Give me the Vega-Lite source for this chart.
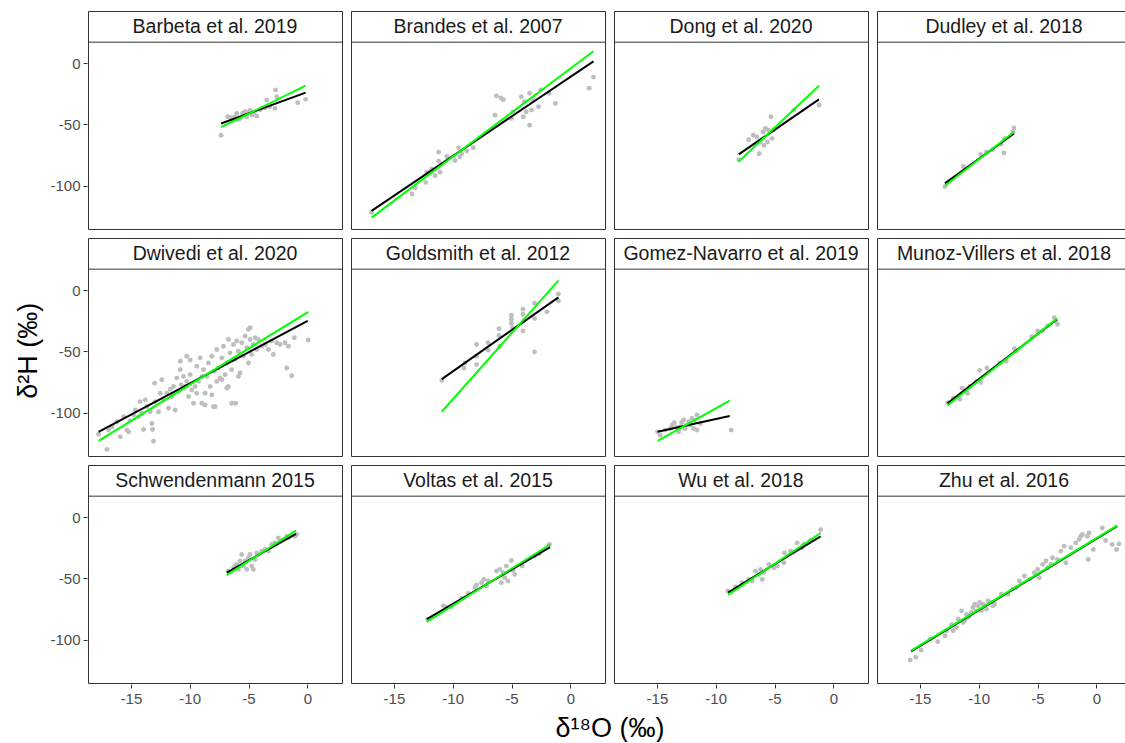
{
"$schema": "https://vega.github.io/schema/vega-lite/v6.json",
"padding": {"left": 14, "top": 9, "right": 0, "bottom": 0},
"autosize": {"type": "pad"},
"background": "white",
"title": {"text": "δ²H (‰)", "orient": "left", "anchor": "middle", "fontSize": 27, "fontWeight": "normal", "font": "Liberation Sans", "color": "#000000", "offset": 7, "dx": 25},
"data": {"values": [
{"study":"Barbeta et al. 2019","series":"obs","d18O":-7.33,"d2H":-58.9},{"study":"Barbeta et al. 2019","series":"obs","d18O":-6.76,"d2H":-43.8},{"study":"Barbeta et al. 2019","series":"obs","d18O":-6.4,"d2H":-46.6},{"study":"Barbeta et al. 2019","series":"obs","d18O":-6.0,"d2H":-41.1},{"study":"Barbeta et al. 2019","series":"obs","d18O":-5.7,"d2H":-45.2},{"study":"Barbeta et al. 2019","series":"obs","d18O":-5.3,"d2H":-39.7},{"study":"Barbeta et al. 2019","series":"obs","d18O":-5.15,"d2H":-43.8},{"study":"Barbeta et al. 2019","series":"obs","d18O":-4.87,"d2H":-38.4},{"study":"Barbeta et al. 2019","series":"obs","d18O":-4.7,"d2H":-42.5},{"study":"Barbeta et al. 2019","series":"obs","d18O":-4.3,"d2H":-43.3},{"study":"Barbeta et al. 2019","series":"obs","d18O":-3.9,"d2H":-37},{"study":"Barbeta et al. 2019","series":"obs","d18O":-3.45,"d2H":-30.1},{"study":"Barbeta et al. 2019","series":"obs","d18O":-3.2,"d2H":-35.6},{"study":"Barbeta et al. 2019","series":"obs","d18O":-2.75,"d2H":-37},{"study":"Barbeta et al. 2019","series":"obs","d18O":-2.7,"d2H":-21.9},{"study":"Barbeta et al. 2019","series":"obs","d18O":-2.6,"d2H":-27.4},{"study":"Barbeta et al. 2019","series":"obs","d18O":-0.82,"d2H":-32.3},{"study":"Barbeta et al. 2019","series":"obs","d18O":-0.14,"d2H":-29.6},{"study":"Barbeta et al. 2019","series":"obs","d18O":-6.2,"d2H":-44},{"study":"Barbeta et al. 2019","series":"obs","d18O":-5.5,"d2H":-41},{"study":"Barbeta et al. 2019","series":"obs","d18O":-4.5,"d2H":-40},{"study":"Barbeta et al. 2019","series":"obs","d18O":-4.0,"d2H":-38},{"study":"Barbeta et al. 2019","series":"obs","d18O":-3.6,"d2H":-36.5},{"study":"Barbeta et al. 2019","series":"obs","d18O":-5.9,"d2H":-46},{"study":"Barbeta et al. 2019","series":"obs","d18O":-6.5,"d2H":-44.5},{"study":"Barbeta et al. 2019","series":"obs","d18O":-5.0,"d2H":-40.5},
{"study":"Barbeta et al. 2019","series":"OLS","d18O":-7.33,"d2H":-49.3},{"study":"Barbeta et al. 2019","series":"OLS","d18O":-0.14,"d2H":-24.1},{"study":"Barbeta et al. 2019","series":"RMA","d18O":-7.33,"d2H":-52.3},{"study":"Barbeta et al. 2019","series":"RMA","d18O":-0.14,"d2H":-18.4},
{"study":"Brandes et al. 2007","series":"obs","d18O":-16.9,"d2H":-121.9},{"study":"Brandes et al. 2007","series":"obs","d18O":-13.46,"d2H":-106.8},{"study":"Brandes et al. 2007","series":"obs","d18O":-13.2,"d2H":-101.9},{"study":"Brandes et al. 2007","series":"obs","d18O":-12.3,"d2H":-97.3},{"study":"Brandes et al. 2007","series":"obs","d18O":-12.2,"d2H":-89},{"study":"Brandes et al. 2007","series":"obs","d18O":-11.8,"d2H":-86.3},{"study":"Brandes et al. 2007","series":"obs","d18O":-11.5,"d2H":-91.8},{"study":"Brandes et al. 2007","series":"obs","d18O":-11.2,"d2H":-72.6},{"study":"Brandes et al. 2007","series":"obs","d18O":-11.2,"d2H":-80},{"study":"Brandes et al. 2007","series":"obs","d18O":-11.07,"d2H":-89},{"study":"Brandes et al. 2007","series":"obs","d18O":-10.5,"d2H":-76.2},{"study":"Brandes et al. 2007","series":"obs","d18O":-9.8,"d2H":-79.5},{"study":"Brandes et al. 2007","series":"obs","d18O":-9.5,"d2H":-69},{"study":"Brandes et al. 2007","series":"obs","d18O":-9.4,"d2H":-76.7},{"study":"Brandes et al. 2007","series":"obs","d18O":-9.24,"d2H":-74},{"study":"Brandes et al. 2007","series":"obs","d18O":-8.8,"d2H":-71.8},{"study":"Brandes et al. 2007","series":"obs","d18O":-8.25,"d2H":-69},{"study":"Brandes et al. 2007","series":"obs","d18O":-6.4,"d2H":-42.5},{"study":"Brandes et al. 2007","series":"obs","d18O":-6.28,"d2H":-26.8},{"study":"Brandes et al. 2007","series":"obs","d18O":-5.7,"d2H":-30},{"study":"Brandes et al. 2007","series":"obs","d18O":-5.9,"d2H":-28.5},{"study":"Brandes et al. 2007","series":"obs","d18O":-5.0,"d2H":-45.2},{"study":"Brandes et al. 2007","series":"obs","d18O":-4.87,"d2H":-39.7},{"study":"Brandes et al. 2007","series":"obs","d18O":-4.17,"d2H":-27.4},{"study":"Brandes et al. 2007","series":"obs","d18O":-4.0,"d2H":-43.8},{"study":"Brandes et al. 2007","series":"obs","d18O":-3.9,"d2H":-31.5},{"study":"Brandes et al. 2007","series":"obs","d18O":-3.75,"d2H":-39.7},{"study":"Brandes et al. 2007","series":"obs","d18O":-3.46,"d2H":-50.7},{"study":"Brandes et al. 2007","series":"obs","d18O":-3.46,"d2H":-24.7},{"study":"Brandes et al. 2007","series":"obs","d18O":-3.3,"d2H":-38.4},{"study":"Brandes et al. 2007","series":"obs","d18O":-3.2,"d2H":-30},{"study":"Brandes et al. 2007","series":"obs","d18O":-2.7,"d2H":-35.6},{"study":"Brandes et al. 2007","series":"obs","d18O":-2.5,"d2H":-21.9},{"study":"Brandes et al. 2007","series":"obs","d18O":-1.8,"d2H":-24.7},{"study":"Brandes et al. 2007","series":"obs","d18O":-1.27,"d2H":-32.9},{"study":"Brandes et al. 2007","series":"obs","d18O":1.6,"d2H":-20.5},{"study":"Brandes et al. 2007","series":"obs","d18O":1.97,"d2H":-11.5},
{"study":"Brandes et al. 2007","series":"OLS","d18O":-16.9,"d2H":-120.5},{"study":"Brandes et al. 2007","series":"OLS","d18O":1.97,"d2H":1.4},{"study":"Brandes et al. 2007","series":"RMA","d18O":-16.9,"d2H":-126},{"study":"Brandes et al. 2007","series":"RMA","d18O":1.97,"d2H":9.6},
{"study":"Dong et al. 2020","series":"obs","d18O":-8.04,"d2H":-78.9},{"study":"Dong et al. 2020","series":"obs","d18O":-7.2,"d2H":-62.5},{"study":"Dong et al. 2020","series":"obs","d18O":-6.8,"d2H":-58.9},{"study":"Dong et al. 2020","series":"obs","d18O":-6.5,"d2H":-60.3},{"study":"Dong et al. 2020","series":"obs","d18O":-6.3,"d2H":-74},{"study":"Dong et al. 2020","series":"obs","d18O":-6.2,"d2H":-64.4},{"study":"Dong et al. 2020","series":"obs","d18O":-5.97,"d2H":-56.2},{"study":"Dong et al. 2020","series":"obs","d18O":-5.9,"d2H":-67.1},{"study":"Dong et al. 2020","series":"obs","d18O":-5.77,"d2H":-53.4},{"study":"Dong et al. 2020","series":"obs","d18O":-5.6,"d2H":-64.4},{"study":"Dong et al. 2020","series":"obs","d18O":-5.5,"d2H":-54.8},{"study":"Dong et al. 2020","series":"obs","d18O":-5.3,"d2H":-43.8},{"study":"Dong et al. 2020","series":"obs","d18O":-5.2,"d2H":-61.6},{"study":"Dong et al. 2020","series":"obs","d18O":-5.05,"d2H":-54.2},{"study":"Dong et al. 2020","series":"obs","d18O":-3.35,"d2H":-38.4},{"study":"Dong et al. 2020","series":"obs","d18O":-1.22,"d2H":-34.2},
{"study":"Dong et al. 2020","series":"OLS","d18O":-8.04,"d2H":-74.5},{"study":"Dong et al. 2020","series":"OLS","d18O":-1.22,"d2H":-29.6},{"study":"Dong et al. 2020","series":"RMA","d18O":-8.04,"d2H":-80.3},{"study":"Dong et al. 2020","series":"RMA","d18O":-1.22,"d2H":-18.6},
{"study":"Dudley et al. 2018","series":"obs","d18O":-12.87,"d2H":-100.8},{"study":"Dudley et al. 2018","series":"obs","d18O":-11.3,"d2H":-84.4},{"study":"Dudley et al. 2018","series":"obs","d18O":-9.83,"d2H":-74.5},{"study":"Dudley et al. 2018","series":"obs","d18O":-9.35,"d2H":-72.6},{"study":"Dudley et al. 2018","series":"obs","d18O":-8.8,"d2H":-70.7},{"study":"Dudley et al. 2018","series":"obs","d18O":-8.1,"d2H":-66.3},{"study":"Dudley et al. 2018","series":"obs","d18O":-7.86,"d2H":-73.4},{"study":"Dudley et al. 2018","series":"obs","d18O":-7.8,"d2H":-61.6},{"study":"Dudley et al. 2018","series":"obs","d18O":-7.0,"d2H":-52.9},{"study":"Dudley et al. 2018","series":"obs","d18O":-7.1,"d2H":-56.2},
{"study":"Dudley et al. 2018","series":"OLS","d18O":-12.87,"d2H":-98.1},{"study":"Dudley et al. 2018","series":"OLS","d18O":-7.0,"d2H":-57.5},{"study":"Dudley et al. 2018","series":"RMA","d18O":-12.87,"d2H":-100},{"study":"Dudley et al. 2018","series":"RMA","d18O":-7.01,"d2H":-56.2},
{"study":"Dwivedi et al. 2020","series":"obs","d18O":-17.75,"d2H":-117.5},{"study":"Dwivedi et al. 2020","series":"obs","d18O":-17.04,"d2H":-129.9},{"study":"Dwivedi et al. 2020","series":"obs","d18O":-16.9,"d2H":-114.2},{"study":"Dwivedi et al. 2020","series":"obs","d18O":-16.61,"d2H":-111.5},{"study":"Dwivedi et al. 2020","series":"obs","d18O":-16.19,"d2H":-107.4},{"study":"Dwivedi et al. 2020","series":"obs","d18O":-15.91,"d2H":-119.7},{"study":"Dwivedi et al. 2020","series":"obs","d18O":-15.62,"d2H":-103.3},{"study":"Dwivedi et al. 2020","series":"obs","d18O":-15.34,"d2H":-114.2},{"study":"Dwivedi et al. 2020","series":"obs","d18O":-15.2,"d2H":-115.6},{"study":"Dwivedi et al. 2020","series":"obs","d18O":-15.06,"d2H":-106.6},{"study":"Dwivedi et al. 2020","series":"obs","d18O":-14.77,"d2H":-101.9},{"study":"Dwivedi et al. 2020","series":"obs","d18O":-14.63,"d2H":-97.8},{"study":"Dwivedi et al. 2020","series":"obs","d18O":-14.35,"d2H":-103.3},{"study":"Dwivedi et al. 2020","series":"obs","d18O":-14.21,"d2H":-91},{"study":"Dwivedi et al. 2020","series":"obs","d18O":-14.07,"d2H":-100.5},{"study":"Dwivedi et al. 2020","series":"obs","d18O":-13.93,"d2H":-113.7},{"study":"Dwivedi et al. 2020","series":"obs","d18O":-13.78,"d2H":-89.6},{"study":"Dwivedi et al. 2020","series":"obs","d18O":-13.64,"d2H":-95.1},{"study":"Dwivedi et al. 2020","series":"obs","d18O":-13.36,"d2H":-99.2},{"study":"Dwivedi et al. 2020","series":"obs","d18O":-13.22,"d2H":-108.8},{"study":"Dwivedi et al. 2020","series":"obs","d18O":-13.16,"d2H":-113.7},{"study":"Dwivedi et al. 2020","series":"obs","d18O":-13.08,"d2H":-123.3},{"study":"Dwivedi et al. 2020","series":"obs","d18O":-12.99,"d2H":-75.9},{"study":"Dwivedi et al. 2020","series":"obs","d18O":-12.94,"d2H":-91},{"study":"Dwivedi et al. 2020","series":"obs","d18O":-12.65,"d2H":-99.2},{"study":"Dwivedi et al. 2020","series":"obs","d18O":-12.51,"d2H":-84.1},{"study":"Dwivedi et al. 2020","series":"obs","d18O":-12.37,"d2H":-73.2},{"study":"Dwivedi et al. 2020","series":"obs","d18O":-12.23,"d2H":-89.6},{"study":"Dwivedi et al. 2020","series":"obs","d18O":-11.94,"d2H":-84.1},{"study":"Dwivedi et al. 2020","series":"obs","d18O":-11.8,"d2H":-96.4},{"study":"Dwivedi et al. 2020","series":"obs","d18O":-11.66,"d2H":-80.8},{"study":"Dwivedi et al. 2020","series":"obs","d18O":-11.52,"d2H":-86.8},{"study":"Dwivedi et al. 2020","series":"obs","d18O":-11.38,"d2H":-78.6},{"study":"Dwivedi et al. 2020","series":"obs","d18O":-11.24,"d2H":-97.8},{"study":"Dwivedi et al. 2020","series":"obs","d18O":-11.1,"d2H":-71.8},{"study":"Dwivedi et al. 2020","series":"obs","d18O":-10.95,"d2H":-82.7},{"study":"Dwivedi et al. 2020","series":"obs","d18O":-10.81,"d2H":-64.9},{"study":"Dwivedi et al. 2020","series":"obs","d18O":-10.73,"d2H":-77.3},{"study":"Dwivedi et al. 2020","series":"obs","d18O":-10.53,"d2H":-70.4},{"study":"Dwivedi et al. 2020","series":"obs","d18O":-10.39,"d2H":-78.6},{"study":"Dwivedi et al. 2020","series":"obs","d18O":-10.25,"d2H":-74.5},{"study":"Dwivedi et al. 2020","series":"obs","d18O":-10.1,"d2H":-86.8},{"study":"Dwivedi et al. 2020","series":"obs","d18O":-9.96,"d2H":-69},{"study":"Dwivedi et al. 2020","series":"obs","d18O":-9.82,"d2H":-81.4},{"study":"Dwivedi et al. 2020","series":"obs","d18O":-9.68,"d2H":-92.3},{"study":"Dwivedi et al. 2020","series":"obs","d18O":-9.54,"d2H":-78.6},{"study":"Dwivedi et al. 2020","series":"obs","d18O":-9.4,"d2H":-62.2},{"study":"Dwivedi et al. 2020","series":"obs","d18O":-9.26,"d2H":-74.5},{"study":"Dwivedi et al. 2020","series":"obs","d18O":-9.11,"d2H":-55.3},{"study":"Dwivedi et al. 2020","series":"obs","d18O":-8.97,"d2H":-70.4},{"study":"Dwivedi et al. 2020","series":"obs","d18O":-8.83,"d2H":-64.9},{"study":"Dwivedi et al. 2020","series":"obs","d18O":-8.69,"d2H":-84.1},{"study":"Dwivedi et al. 2020","series":"obs","d18O":-8.55,"d2H":-70.4},{"study":"Dwivedi et al. 2020","series":"obs","d18O":-8.41,"d2H":-59.5},{"study":"Dwivedi et al. 2020","series":"obs","d18O":-8.26,"d2H":-78.6},{"study":"Dwivedi et al. 2020","series":"obs","d18O":-8.12,"d2H":-54},{"study":"Dwivedi et al. 2020","series":"obs","d18O":-7.98,"d2H":-95.1},{"study":"Dwivedi et al. 2020","series":"obs","d18O":-7.9,"d2H":-66.3},{"study":"Dwivedi et al. 2020","series":"obs","d18O":-7.7,"d2H":-48.5},{"study":"Dwivedi et al. 2020","series":"obs","d18O":-7.56,"d2H":-63.6},{"study":"Dwivedi et al. 2020","series":"obs","d18O":-7.42,"d2H":-71.8},{"study":"Dwivedi et al. 2020","series":"obs","d18O":-7.27,"d2H":-55.3},{"study":"Dwivedi et al. 2020","series":"obs","d18O":-7.13,"d2H":-45.8},{"study":"Dwivedi et al. 2020","series":"obs","d18O":-6.99,"d2H":-69},{"study":"Dwivedi et al. 2020","series":"obs","d18O":-6.85,"d2H":-59.5},{"study":"Dwivedi et al. 2020","series":"obs","d18O":-6.71,"d2H":-40.3},{"study":"Dwivedi et al. 2020","series":"obs","d18O":-6.57,"d2H":-51.2},{"study":"Dwivedi et al. 2020","series":"obs","d18O":-6.43,"d2H":-64.9},{"study":"Dwivedi et al. 2020","series":"obs","d18O":-6.28,"d2H":-44.4},{"study":"Dwivedi et al. 2020","series":"obs","d18O":-6.14,"d2H":-56.7},{"study":"Dwivedi et al. 2020","series":"obs","d18O":-6.09,"d2H":-92.3},{"study":"Dwivedi et al. 2020","series":"obs","d18O":-6.0,"d2H":-41.6},{"study":"Dwivedi et al. 2020","series":"obs","d18O":-5.86,"d2H":-49.9},{"study":"Dwivedi et al. 2020","series":"obs","d18O":-5.72,"d2H":-67.7},{"study":"Dwivedi et al. 2020","series":"obs","d18O":-5.58,"d2H":-43},{"study":"Dwivedi et al. 2020","series":"obs","d18O":-5.43,"d2H":-54},{"study":"Dwivedi et al. 2020","series":"obs","d18O":-5.29,"d2H":-37.5},{"study":"Dwivedi et al. 2020","series":"obs","d18O":-5.15,"d2H":-47.1},{"study":"Dwivedi et al. 2020","series":"obs","d18O":-5.01,"d2H":-59.5},{"study":"Dwivedi et al. 2020","series":"obs","d18O":-4.87,"d2H":-40.3},{"study":"Dwivedi et al. 2020","series":"obs","d18O":-4.73,"d2H":-52.6},{"study":"Dwivedi et al. 2020","series":"obs","d18O":-4.59,"d2H":-44.4},{"study":"Dwivedi et al. 2020","series":"obs","d18O":-4.44,"d2H":-38.9},{"study":"Dwivedi et al. 2020","series":"obs","d18O":-4.3,"d2H":-48.5},{"study":"Dwivedi et al. 2020","series":"obs","d18O":-4.16,"d2H":-40.3},{"study":"Dwivedi et al. 2020","series":"obs","d18O":-3.88,"d2H":-45.8},{"study":"Dwivedi et al. 2020","series":"obs","d18O":-3.59,"d2H":-44.4},{"study":"Dwivedi et al. 2020","series":"obs","d18O":-3.31,"d2H":-48.5},{"study":"Dwivedi et al. 2020","series":"obs","d18O":-3.03,"d2H":-41.6},{"study":"Dwivedi et al. 2020","series":"obs","d18O":-2.89,"d2H":-52.6},{"study":"Dwivedi et al. 2020","series":"obs","d18O":-2.6,"d2H":-43},{"study":"Dwivedi et al. 2020","series":"obs","d18O":-2.32,"d2H":-44.4},{"study":"Dwivedi et al. 2020","series":"obs","d18O":-1.9,"d2H":-43},{"study":"Dwivedi et al. 2020","series":"obs","d18O":-1.75,"d2H":-63.6},{"study":"Dwivedi et al. 2020","series":"obs","d18O":-1.61,"d2H":-45.8},{"study":"Dwivedi et al. 2020","series":"obs","d18O":-1.33,"d2H":-69.9},{"study":"Dwivedi et al. 2020","series":"obs","d18O":-1.1,"d2H":-38.9},{"study":"Dwivedi et al. 2020","series":"obs","d18O":0.08,"d2H":-40.8},{"study":"Dwivedi et al. 2020","series":"obs","d18O":-5.01,"d2H":-32.1},{"study":"Dwivedi et al. 2020","series":"obs","d18O":-4.87,"d2H":-30.7},{"study":"Dwivedi et al. 2020","series":"obs","d18O":-7.27,"d2H":-73.2},{"study":"Dwivedi et al. 2020","series":"obs","d18O":-6.71,"d2H":-78.6},{"study":"Dwivedi et al. 2020","series":"obs","d18O":-6.43,"d2H":-92.3},{"study":"Dwivedi et al. 2020","series":"obs","d18O":-6.85,"d2H":-80},{"study":"Dwivedi et al. 2020","series":"obs","d18O":-7.7,"d2H":-74.5},{"study":"Dwivedi et al. 2020","series":"obs","d18O":-8.69,"d2H":-93.7},{"study":"Dwivedi et al. 2020","series":"obs","d18O":-8.97,"d2H":-92.3},{"study":"Dwivedi et al. 2020","series":"obs","d18O":-9.4,"d2H":-84.1},{"study":"Dwivedi et al. 2020","series":"obs","d18O":-8.12,"d2H":-85.5},{"study":"Dwivedi et al. 2020","series":"obs","d18O":-5.86,"d2H":-70.4},{"study":"Dwivedi et al. 2020","series":"obs","d18O":-7.84,"d2H":-95.1},{"study":"Dwivedi et al. 2020","series":"obs","d18O":-10.8,"d2H":-58.1},{"study":"Dwivedi et al. 2020","series":"obs","d18O":-10.25,"d2H":-54},{"study":"Dwivedi et al. 2020","series":"obs","d18O":-9.96,"d2H":-57},
{"study":"Dwivedi et al. 2020","series":"OLS","d18O":-17.75,"d2H":-115.6},{"study":"Dwivedi et al. 2020","series":"OLS","d18O":0.03,"d2H":-25.2},{"study":"Dwivedi et al. 2020","series":"RMA","d18O":-17.75,"d2H":-123},{"study":"Dwivedi et al. 2020","series":"RMA","d18O":0.08,"d2H":-17.8},
{"study":"Goldsmith et al. 2012","series":"obs","d18O":-10.93,"d2H":-73.7},{"study":"Goldsmith et al. 2012","series":"obs","d18O":-9.04,"d2H":-63.6},{"study":"Goldsmith et al. 2012","series":"obs","d18O":-8.96,"d2H":-59.5},{"study":"Goldsmith et al. 2012","series":"obs","d18O":-7.97,"d2H":-44.4},{"study":"Goldsmith et al. 2012","series":"obs","d18O":-7.97,"d2H":-54},{"study":"Goldsmith et al. 2012","series":"obs","d18O":-7.97,"d2H":-60.8},{"study":"Goldsmith et al. 2012","series":"obs","d18O":-6.99,"d2H":-43},{"study":"Goldsmith et al. 2012","series":"obs","d18O":-6.99,"d2H":-49},{"study":"Goldsmith et al. 2012","series":"obs","d18O":-6.06,"d2H":-31.5},{"study":"Goldsmith et al. 2012","series":"obs","d18O":-6.06,"d2H":-37},{"study":"Goldsmith et al. 2012","series":"obs","d18O":-6.0,"d2H":-45.8},{"study":"Goldsmith et al. 2012","series":"obs","d18O":-5.01,"d2H":-20.5},{"study":"Goldsmith et al. 2012","series":"obs","d18O":-5.01,"d2H":-23.8},{"study":"Goldsmith et al. 2012","series":"obs","d18O":-5.01,"d2H":-27.1},{"study":"Goldsmith et al. 2012","series":"obs","d18O":-4.93,"d2H":-30.7},{"study":"Goldsmith et al. 2012","series":"obs","d18O":-4.03,"d2H":-15.6},{"study":"Goldsmith et al. 2012","series":"obs","d18O":-4.03,"d2H":-19.7},{"study":"Goldsmith et al. 2012","series":"obs","d18O":-4.03,"d2H":-33.4},{"study":"Goldsmith et al. 2012","series":"obs","d18O":-3.97,"d2H":-25.2},{"study":"Goldsmith et al. 2012","series":"obs","d18O":-3.04,"d2H":-10.7},{"study":"Goldsmith et al. 2012","series":"obs","d18O":-3.04,"d2H":-23.3},{"study":"Goldsmith et al. 2012","series":"obs","d18O":-3.04,"d2H":-50.4},{"study":"Goldsmith et al. 2012","series":"obs","d18O":-2.0,"d2H":-17.8},{"study":"Goldsmith et al. 2012","series":"obs","d18O":-1.01,"d2H":-3.3},{"study":"Goldsmith et al. 2012","series":"obs","d18O":-1.01,"d2H":-8.8},
{"study":"Goldsmith et al. 2012","series":"OLS","d18O":-10.93,"d2H":-72.6},{"study":"Goldsmith et al. 2012","series":"OLS","d18O":-1.01,"d2H":-6.0},{"study":"Goldsmith et al. 2012","series":"RMA","d18O":-10.93,"d2H":-99.2},{"study":"Goldsmith et al. 2012","series":"RMA","d18O":-1.01,"d2H":7.7},
{"study":"Gomez-Navarro et al. 2019","series":"obs","d18O":-14.94,"d2H":-115.6},{"study":"Gomez-Navarro et al. 2019","series":"obs","d18O":-14.72,"d2H":-118.4},{"study":"Gomez-Navarro et al. 2019","series":"obs","d18O":-14.29,"d2H":-114.2},{"study":"Gomez-Navarro et al. 2019","series":"obs","d18O":-13.86,"d2H":-112.9},{"study":"Gomez-Navarro et al. 2019","series":"obs","d18O":-13.52,"d2H":-108.2},{"study":"Gomez-Navarro et al. 2019","series":"obs","d18O":-13.15,"d2H":-115.6},{"study":"Gomez-Navarro et al. 2019","series":"obs","d18O":-13.0,"d2H":-111.5},{"study":"Gomez-Navarro et al. 2019","series":"obs","d18O":-12.73,"d2H":-106},{"study":"Gomez-Navarro et al. 2019","series":"obs","d18O":-12.5,"d2H":-110.1},{"study":"Gomez-Navarro et al. 2019","series":"obs","d18O":-12.3,"d2H":-107.4},{"study":"Gomez-Navarro et al. 2019","series":"obs","d18O":-12.02,"d2H":-104.7},{"study":"Gomez-Navarro et al. 2019","series":"obs","d18O":-11.88,"d2H":-112.9},{"study":"Gomez-Navarro et al. 2019","series":"obs","d18O":-11.59,"d2H":-101.9},{"study":"Gomez-Navarro et al. 2019","series":"obs","d18O":-11.59,"d2H":-114.2},{"study":"Gomez-Navarro et al. 2019","series":"obs","d18O":-11.3,"d2H":-108.8},{"study":"Gomez-Navarro et al. 2019","series":"obs","d18O":-8.69,"d2H":-114.2},{"study":"Gomez-Navarro et al. 2019","series":"obs","d18O":-13.7,"d2H":-110},{"study":"Gomez-Navarro et al. 2019","series":"obs","d18O":-12.9,"d2H":-108},{"study":"Gomez-Navarro et al. 2019","series":"obs","d18O":-12.2,"d2H":-110},{"study":"Gomez-Navarro et al. 2019","series":"obs","d18O":-11.8,"d2H":-106},{"study":"Gomez-Navarro et al. 2019","series":"obs","d18O":-12.6,"d2H":-113},{"study":"Gomez-Navarro et al. 2019","series":"obs","d18O":-13.3,"d2H":-112},
{"study":"Gomez-Navarro et al. 2019","series":"OLS","d18O":-14.94,"d2H":-115.6},{"study":"Gomez-Navarro et al. 2019","series":"OLS","d18O":-8.81,"d2H":-102.7},{"study":"Gomez-Navarro et al. 2019","series":"RMA","d18O":-14.94,"d2H":-123},{"study":"Gomez-Navarro et al. 2019","series":"RMA","d18O":-8.81,"d2H":-90.1},
{"study":"Munoz-Villers et al. 2018","series":"obs","d18O":-12.65,"d2H":-91.8},{"study":"Munoz-Villers et al. 2018","series":"obs","d18O":-12.17,"d2H":-88.2},{"study":"Munoz-Villers et al. 2018","series":"obs","d18O":-11.61,"d2H":-89},{"study":"Munoz-Villers et al. 2018","series":"obs","d18O":-11.41,"d2H":-80},{"study":"Munoz-Villers et al. 2018","series":"obs","d18O":-10.96,"d2H":-84.1},{"study":"Munoz-Villers et al. 2018","series":"obs","d18O":-10.76,"d2H":-78.6},{"study":"Munoz-Villers et al. 2018","series":"obs","d18O":-10.2,"d2H":-74.5},{"study":"Munoz-Villers et al. 2018","series":"obs","d18O":-9.92,"d2H":-65.5},{"study":"Munoz-Villers et al. 2018","series":"obs","d18O":-9.83,"d2H":-75.3},{"study":"Munoz-Villers et al. 2018","series":"obs","d18O":-9.3,"d2H":-63.6},{"study":"Munoz-Villers et al. 2018","series":"obs","d18O":-8.23,"d2H":-59.5},{"study":"Munoz-Villers et al. 2018","series":"obs","d18O":-7.66,"d2H":-58.1},{"study":"Munoz-Villers et al. 2018","series":"obs","d18O":-6.96,"d2H":-47.9},{"study":"Munoz-Villers et al. 2018","series":"obs","d18O":-6.82,"d2H":-49.9},{"study":"Munoz-Villers et al. 2018","series":"obs","d18O":-5.49,"d2H":-38.1},{"study":"Munoz-Villers et al. 2018","series":"obs","d18O":-4.99,"d2H":-33.4},{"study":"Munoz-Villers et al. 2018","series":"obs","d18O":-4.56,"d2H":-33.4},{"study":"Munoz-Villers et al. 2018","series":"obs","d18O":-4.14,"d2H":-29.3},{"study":"Munoz-Villers et al. 2018","series":"obs","d18O":-3.58,"d2H":-22.5},{"study":"Munoz-Villers et al. 2018","series":"obs","d18O":-3.3,"d2H":-27.9},{"study":"Munoz-Villers et al. 2018","series":"obs","d18O":-3.44,"d2H":-25.2},
{"study":"Munoz-Villers et al. 2018","series":"OLS","d18O":-12.65,"d2H":-92.3},{"study":"Munoz-Villers et al. 2018","series":"OLS","d18O":-3.35,"d2H":-23.8},{"study":"Munoz-Villers et al. 2018","series":"RMA","d18O":-12.65,"d2H":-94.2},{"study":"Munoz-Villers et al. 2018","series":"RMA","d18O":-3.35,"d2H":-23.3},
{"study":"Schwendenmann 2015","series":"obs","d18O":-6.71,"d2H":-44.1},{"study":"Schwendenmann 2015","series":"obs","d18O":-6.28,"d2H":-41.4},{"study":"Schwendenmann 2015","series":"obs","d18O":-6.0,"d2H":-38.6},{"study":"Schwendenmann 2015","series":"obs","d18O":-5.86,"d2H":-42.7},{"study":"Schwendenmann 2015","series":"obs","d18O":-5.58,"d2H":-30.5},{"study":"Schwendenmann 2015","series":"obs","d18O":-5.43,"d2H":-40},{"study":"Schwendenmann 2015","series":"obs","d18O":-5.29,"d2H":-35.9},{"study":"Schwendenmann 2015","series":"obs","d18O":-5.15,"d2H":-42.7},{"study":"Schwendenmann 2015","series":"obs","d18O":-5.01,"d2H":-33.2},{"study":"Schwendenmann 2015","series":"obs","d18O":-4.87,"d2H":-30.5},{"study":"Schwendenmann 2015","series":"obs","d18O":-4.73,"d2H":-40},{"study":"Schwendenmann 2015","series":"obs","d18O":-4.59,"d2H":-42.7},{"study":"Schwendenmann 2015","series":"obs","d18O":-4.44,"d2H":-34.6},{"study":"Schwendenmann 2015","series":"obs","d18O":-4.3,"d2H":-29.2},{"study":"Schwendenmann 2015","series":"obs","d18O":-4.16,"d2H":-30.5},{"study":"Schwendenmann 2015","series":"obs","d18O":-3.88,"d2H":-27.8},{"study":"Schwendenmann 2015","series":"obs","d18O":-3.59,"d2H":-26.5},{"study":"Schwendenmann 2015","series":"obs","d18O":-3.31,"d2H":-27.8},{"study":"Schwendenmann 2015","series":"obs","d18O":-3.03,"d2H":-22.4},{"study":"Schwendenmann 2015","series":"obs","d18O":-2.75,"d2H":-21.1},{"study":"Schwendenmann 2015","series":"obs","d18O":-2.46,"d2H":-17},{"study":"Schwendenmann 2015","series":"obs","d18O":-2.32,"d2H":-19.7},{"study":"Schwendenmann 2015","series":"obs","d18O":-2.04,"d2H":-18.4},{"study":"Schwendenmann 2015","series":"obs","d18O":-1.75,"d2H":-15.7},{"study":"Schwendenmann 2015","series":"obs","d18O":-1.61,"d2H":-17},{"study":"Schwendenmann 2015","series":"obs","d18O":-1.33,"d2H":-14.9},{"study":"Schwendenmann 2015","series":"obs","d18O":-1.05,"d2H":-15.7},{"study":"Schwendenmann 2015","series":"obs","d18O":-0.91,"d2H":-14.3},{"study":"Schwendenmann 2015","series":"obs","d18O":-5.72,"d2H":-35.9},{"study":"Schwendenmann 2015","series":"obs","d18O":-6.14,"d2H":-40},
{"study":"Schwendenmann 2015","series":"OLS","d18O":-6.85,"d2H":-45.4},{"study":"Schwendenmann 2015","series":"OLS","d18O":-0.96,"d2H":-13.8},{"study":"Schwendenmann 2015","series":"RMA","d18O":-6.85,"d2H":-47.3},{"study":"Schwendenmann 2015","series":"RMA","d18O":-0.96,"d2H":-11.1},
{"study":"Voltas et al. 2015","series":"obs","d18O":-12.14,"d2H":-83.2},{"study":"Voltas et al. 2015","series":"obs","d18O":-10.79,"d2H":-72.4},{"study":"Voltas et al. 2015","series":"obs","d18O":-10.51,"d2H":-73.8},{"study":"Voltas et al. 2015","series":"obs","d18O":-10.08,"d2H":-73.2},{"study":"Voltas et al. 2015","series":"obs","d18O":-9.24,"d2H":-66.2},{"study":"Voltas et al. 2015","series":"obs","d18O":-8.68,"d2H":-62.4},{"study":"Voltas et al. 2015","series":"obs","d18O":-8.11,"d2H":-57.6},{"study":"Voltas et al. 2015","series":"obs","d18O":-7.97,"d2H":-55.4},{"study":"Voltas et al. 2015","series":"obs","d18O":-7.55,"d2H":-53.5},{"study":"Voltas et al. 2015","series":"obs","d18O":-7.35,"d2H":-50.8},{"study":"Voltas et al. 2015","series":"obs","d18O":-7.13,"d2H":-56.2},{"study":"Voltas et al. 2015","series":"obs","d18O":-6.99,"d2H":-52.2},{"study":"Voltas et al. 2015","series":"obs","d18O":-6.28,"d2H":-44.1},{"study":"Voltas et al. 2015","series":"obs","d18O":-6.0,"d2H":-42.7},{"study":"Voltas et al. 2015","series":"obs","d18O":-5.86,"d2H":-53.5},{"study":"Voltas et al. 2015","series":"obs","d18O":-5.72,"d2H":-45.4},{"study":"Voltas et al. 2015","series":"obs","d18O":-5.58,"d2H":-49.5},{"study":"Voltas et al. 2015","series":"obs","d18O":-5.44,"d2H":-40},{"study":"Voltas et al. 2015","series":"obs","d18O":-5.3,"d2H":-52.2},{"study":"Voltas et al. 2015","series":"obs","d18O":-5.01,"d2H":-35.4},{"study":"Voltas et al. 2015","series":"obs","d18O":-4.87,"d2H":-43.5},{"study":"Voltas et al. 2015","series":"obs","d18O":-4.73,"d2H":-46.8},{"study":"Voltas et al. 2015","series":"obs","d18O":-4.08,"d2H":-40},{"study":"Voltas et al. 2015","series":"obs","d18O":-3.04,"d2H":-31.9},{"study":"Voltas et al. 2015","series":"obs","d18O":-2.62,"d2H":-30},{"study":"Voltas et al. 2015","series":"obs","d18O":-1.77,"d2H":-22.4},
{"study":"Voltas et al. 2015","series":"OLS","d18O":-12.2,"d2H":-83.2},{"study":"Voltas et al. 2015","series":"OLS","d18O":-1.72,"d2H":-24.6},{"study":"Voltas et al. 2015","series":"RMA","d18O":-12.2,"d2H":-85.4},{"study":"Voltas et al. 2015","series":"RMA","d18O":-1.72,"d2H":-22.4},
{"study":"Wu et al. 2018","series":"obs","d18O":-8.98,"d2H":-60.3},{"study":"Wu et al. 2018","series":"obs","d18O":-8.32,"d2H":-57},{"study":"Wu et al. 2018","series":"obs","d18O":-7.76,"d2H":-53.5},{"study":"Wu et al. 2018","series":"obs","d18O":-7.19,"d2H":-50.8},{"study":"Wu et al. 2018","series":"obs","d18O":-6.9,"d2H":-52.2},{"study":"Wu et al. 2018","series":"obs","d18O":-6.62,"d2H":-44.1},{"study":"Wu et al. 2018","series":"obs","d18O":-6.34,"d2H":-46.8},{"study":"Wu et al. 2018","series":"obs","d18O":-6.19,"d2H":-42.7},{"study":"Wu et al. 2018","series":"obs","d18O":-6.05,"d2H":-50.8},{"study":"Wu et al. 2018","series":"obs","d18O":-5.91,"d2H":-45.4},{"study":"Wu et al. 2018","series":"obs","d18O":-5.48,"d2H":-38.6},{"study":"Wu et al. 2018","series":"obs","d18O":-5.06,"d2H":-41.4},{"study":"Wu et al. 2018","series":"obs","d18O":-4.77,"d2H":-40},{"study":"Wu et al. 2018","series":"obs","d18O":-4.2,"d2H":-37.3},{"study":"Wu et al. 2018","series":"obs","d18O":-4.15,"d2H":-29.2},{"study":"Wu et al. 2018","series":"obs","d18O":-3.64,"d2H":-27.8},{"study":"Wu et al. 2018","series":"obs","d18O":-3.07,"d2H":-21.1},{"study":"Wu et al. 2018","series":"obs","d18O":-2.64,"d2H":-25.1},{"study":"Wu et al. 2018","series":"obs","d18O":-2.5,"d2H":-22.4},{"study":"Wu et al. 2018","series":"obs","d18O":-1.08,"d2H":-10.3},{"study":"Wu et al. 2018","series":"obs","d18O":-1.93,"d2H":-19.2},
{"study":"Wu et al. 2018","series":"OLS","d18O":-8.95,"d2H":-61.6},{"study":"Wu et al. 2018","series":"OLS","d18O":-1.08,"d2H":-15.7},{"study":"Wu et al. 2018","series":"RMA","d18O":-8.95,"d2H":-63.5},{"study":"Wu et al. 2018","series":"RMA","d18O":-1.08,"d2H":-13},
{"study":"Zhu et al. 2016","series":"obs","d18O":-15.83,"d2H":-116.5},{"study":"Zhu et al. 2016","series":"obs","d18O":-15.35,"d2H":-114.3},{"study":"Zhu et al. 2016","series":"obs","d18O":-14.9,"d2H":-108.4},{"study":"Zhu et al. 2016","series":"obs","d18O":-14.14,"d2H":-99.5},{"study":"Zhu et al. 2016","series":"obs","d18O":-13.49,"d2H":-101.6},{"study":"Zhu et al. 2016","series":"obs","d18O":-12.73,"d2H":-92.7},{"study":"Zhu et al. 2016","series":"obs","d18O":-12.31,"d2H":-87.8},{"study":"Zhu et al. 2016","series":"obs","d18O":-12.17,"d2H":-92.7},{"study":"Zhu et al. 2016","series":"obs","d18O":-11.75,"d2H":-83.2},{"study":"Zhu et al. 2016","series":"obs","d18O":-11.46,"d2H":-76.5},{"study":"Zhu et al. 2016","series":"obs","d18O":-11.32,"d2H":-85.9},{"study":"Zhu et al. 2016","series":"obs","d18O":-11.04,"d2H":-79.2},{"study":"Zhu et al. 2016","series":"obs","d18O":-10.9,"d2H":-81.9},{"study":"Zhu et al. 2016","series":"obs","d18O":-10.62,"d2H":-77.8},{"study":"Zhu et al. 2016","series":"obs","d18O":-10.48,"d2H":-73.8},{"study":"Zhu et al. 2016","series":"obs","d18O":-10.34,"d2H":-71.1},{"study":"Zhu et al. 2016","series":"obs","d18O":-10.2,"d2H":-76.5},{"study":"Zhu et al. 2016","series":"obs","d18O":-10.06,"d2H":-72.4},{"study":"Zhu et al. 2016","series":"obs","d18O":-9.92,"d2H":-69.7},{"study":"Zhu et al. 2016","series":"obs","d18O":-9.63,"d2H":-71.1},{"study":"Zhu et al. 2016","series":"obs","d18O":-9.35,"d2H":-75.1},{"study":"Zhu et al. 2016","series":"obs","d18O":-9.21,"d2H":-68.4},{"study":"Zhu et al. 2016","series":"obs","d18O":-8.93,"d2H":-69.7},{"study":"Zhu et al. 2016","series":"obs","d18O":-8.65,"d2H":-71.1},{"study":"Zhu et al. 2016","series":"obs","d18O":-8.08,"d2H":-63},{"study":"Zhu et al. 2016","series":"obs","d18O":-7.1,"d2H":-58.9},{"study":"Zhu et al. 2016","series":"obs","d18O":-6.82,"d2H":-57.6},{"study":"Zhu et al. 2016","series":"obs","d18O":-6.11,"d2H":-48.1},{"study":"Zhu et al. 2016","series":"obs","d18O":-5.69,"d2H":-50.8},{"study":"Zhu et al. 2016","series":"obs","d18O":-4.99,"d2H":-42.7},{"study":"Zhu et al. 2016","series":"obs","d18O":-4.85,"d2H":-49.5},{"study":"Zhu et al. 2016","series":"obs","d18O":-4.56,"d2H":-38.6},{"study":"Zhu et al. 2016","series":"obs","d18O":-4.28,"d2H":-35.9},{"study":"Zhu et al. 2016","series":"obs","d18O":-4.14,"d2H":-41.4},{"study":"Zhu et al. 2016","series":"obs","d18O":-3.72,"d2H":-33.2},{"study":"Zhu et al. 2016","series":"obs","d18O":-3.3,"d2H":-34.6},{"study":"Zhu et al. 2016","series":"obs","d18O":-3.01,"d2H":-27.8},{"study":"Zhu et al. 2016","series":"obs","d18O":-2.73,"d2H":-23.8},{"study":"Zhu et al. 2016","series":"obs","d18O":-2.59,"d2H":-37.3},{"study":"Zhu et al. 2016","series":"obs","d18O":-2.17,"d2H":-25.1},{"study":"Zhu et al. 2016","series":"obs","d18O":-1.75,"d2H":-21.1},{"study":"Zhu et al. 2016","series":"obs","d18O":-1.46,"d2H":-18.4},{"study":"Zhu et al. 2016","series":"obs","d18O":-1.18,"d2H":-14.3},{"study":"Zhu et al. 2016","series":"obs","d18O":-0.76,"d2H":-15.7},{"study":"Zhu et al. 2016","series":"obs","d18O":-0.68,"d2H":-34.6},{"study":"Zhu et al. 2016","series":"obs","d18O":-0.62,"d2H":-13},{"study":"Zhu et al. 2016","series":"obs","d18O":-0.25,"d2H":-26.5},{"study":"Zhu et al. 2016","series":"obs","d18O":0.51,"d2H":-8.9},{"study":"Zhu et al. 2016","series":"obs","d18O":0.79,"d2H":-19.2},{"study":"Zhu et al. 2016","series":"obs","d18O":1.35,"d2H":-22.4},{"study":"Zhu et al. 2016","series":"obs","d18O":1.72,"d2H":-26.5},{"study":"Zhu et al. 2016","series":"obs","d18O":1.92,"d2H":-21.9},{"study":"Zhu et al. 2016","series":"obs","d18O":-7.52,"d2H":-63},{"study":"Zhu et al. 2016","series":"obs","d18O":-6.54,"d2H":-52.2},{"study":"Zhu et al. 2016","series":"obs","d18O":-12.87,"d2H":-96.8},{"study":"Zhu et al. 2016","series":"obs","d18O":-11.89,"d2H":-90},{"study":"Zhu et al. 2016","series":"obs","d18O":-11.18,"d2H":-84.6},{"study":"Zhu et al. 2016","series":"obs","d18O":-10.76,"d2H":-80.5},{"study":"Zhu et al. 2016","series":"obs","d18O":-9.77,"d2H":-76.5},{"study":"Zhu et al. 2016","series":"obs","d18O":-8.79,"d2H":-72.4},{"study":"Zhu et al. 2016","series":"obs","d18O":-5.27,"d2H":-45.4},{"study":"Zhu et al. 2016","series":"obs","d18O":-3.86,"d2H":-38.6},{"study":"Zhu et al. 2016","series":"obs","d18O":-1.32,"d2H":-15.7},
{"study":"Zhu et al. 2016","series":"OLS","d18O":-15.75,"d2H":-109.5},{"study":"Zhu et al. 2016","series":"OLS","d18O":1.77,"d2H":-7.5},{"study":"Zhu et al. 2016","series":"RMA","d18O":-15.75,"d2H":-108.9},{"study":"Zhu et al. 2016","series":"RMA","d18O":1.77,"d2H":-7.0}
]},
"columns": 4,
"facet": {"field": "study", "type": "nominal",
  "header": {"title": "δ¹⁸O (‰)", "titleOrient": "bottom", "labels": false, "labelExpr": "''", "labelFontSize": 1, "labelPadding": 0, "titleFontSize": 27, "titleFont": "Liberation Sans", "titleFontWeight": "normal", "titleColor": "#000000", "titlePadding": 10}},
"spacing": {"row": 6, "column": 7},
"spec": {
  "width": 254,
  "height": 218,
  "encoding": {
    "x": {"field": "d18O", "type": "quantitative", "scale": {"domain": [-18.65, 2.95], "nice": false, "zero": false}, "axis": {"values": [-15, -10, -5, 0], "labelExpr": "'' + datum.value", "title": null}},
    "y": {"field": "d2H", "type": "quantitative", "scale": {"domain": [-135.3, 42.4], "nice": false, "zero": false}, "axis": {"values": [0, -50, -100], "labelExpr": "'' + datum.value", "title": null}}
  },
  "layer": [
    {"transform": [{"filter": "datum.series === 'obs'"}], "mark": {"type": "circle", "size": 24, "color": "#BEBEBE", "opacity": 1}},
    {"transform": [{"filter": "datum.series !== 'obs'"}], "mark": {"type": "line", "strokeWidth": 2},
     "encoding": {"color": {"field": "series", "type": "nominal", "scale": {"domain": ["OLS", "RMA"], "range": ["#000000", "#00FF00"]}, "legend": null}}},
    {"transform": [{"filter": "datum.series === 'OLS'"}, {"window": [{"op": "row_number", "as": "rn"}], "groupby": ["study"]}, {"filter": "datum.rn === 1"}],
     "mark": {"type": "rule", "color": "#333333", "strokeWidth": 1}, "encoding": {"x": null, "y": {"datum": 17}}},
    {"transform": [{"filter": "datum.series === 'OLS'"}, {"window": [{"op": "row_number", "as": "rn"}], "groupby": ["study"]}, {"filter": "datum.rn === 1"}],
     "mark": {"type": "text", "fontSize": 19.5, "font": "Liberation Sans", "color": "#1A1A1A", "baseline": "middle", "align": "center"},
     "encoding": {"x": {"datum": -7.85}, "y": {"datum": 29.5}, "text": {"field": "study", "type": "nominal"}}}
  ]
},
"config": {
  "view": {"stroke": "#333333", "strokeWidth": 1},
  "axis": {"grid": false, "domain": false, "tickColor": "#333333", "tickSize": 4, "labelColor": "#4D4D4D", "labelFontSize": 15, "labelFont": "Liberation Sans", "labelPadding": 3}
}
}
